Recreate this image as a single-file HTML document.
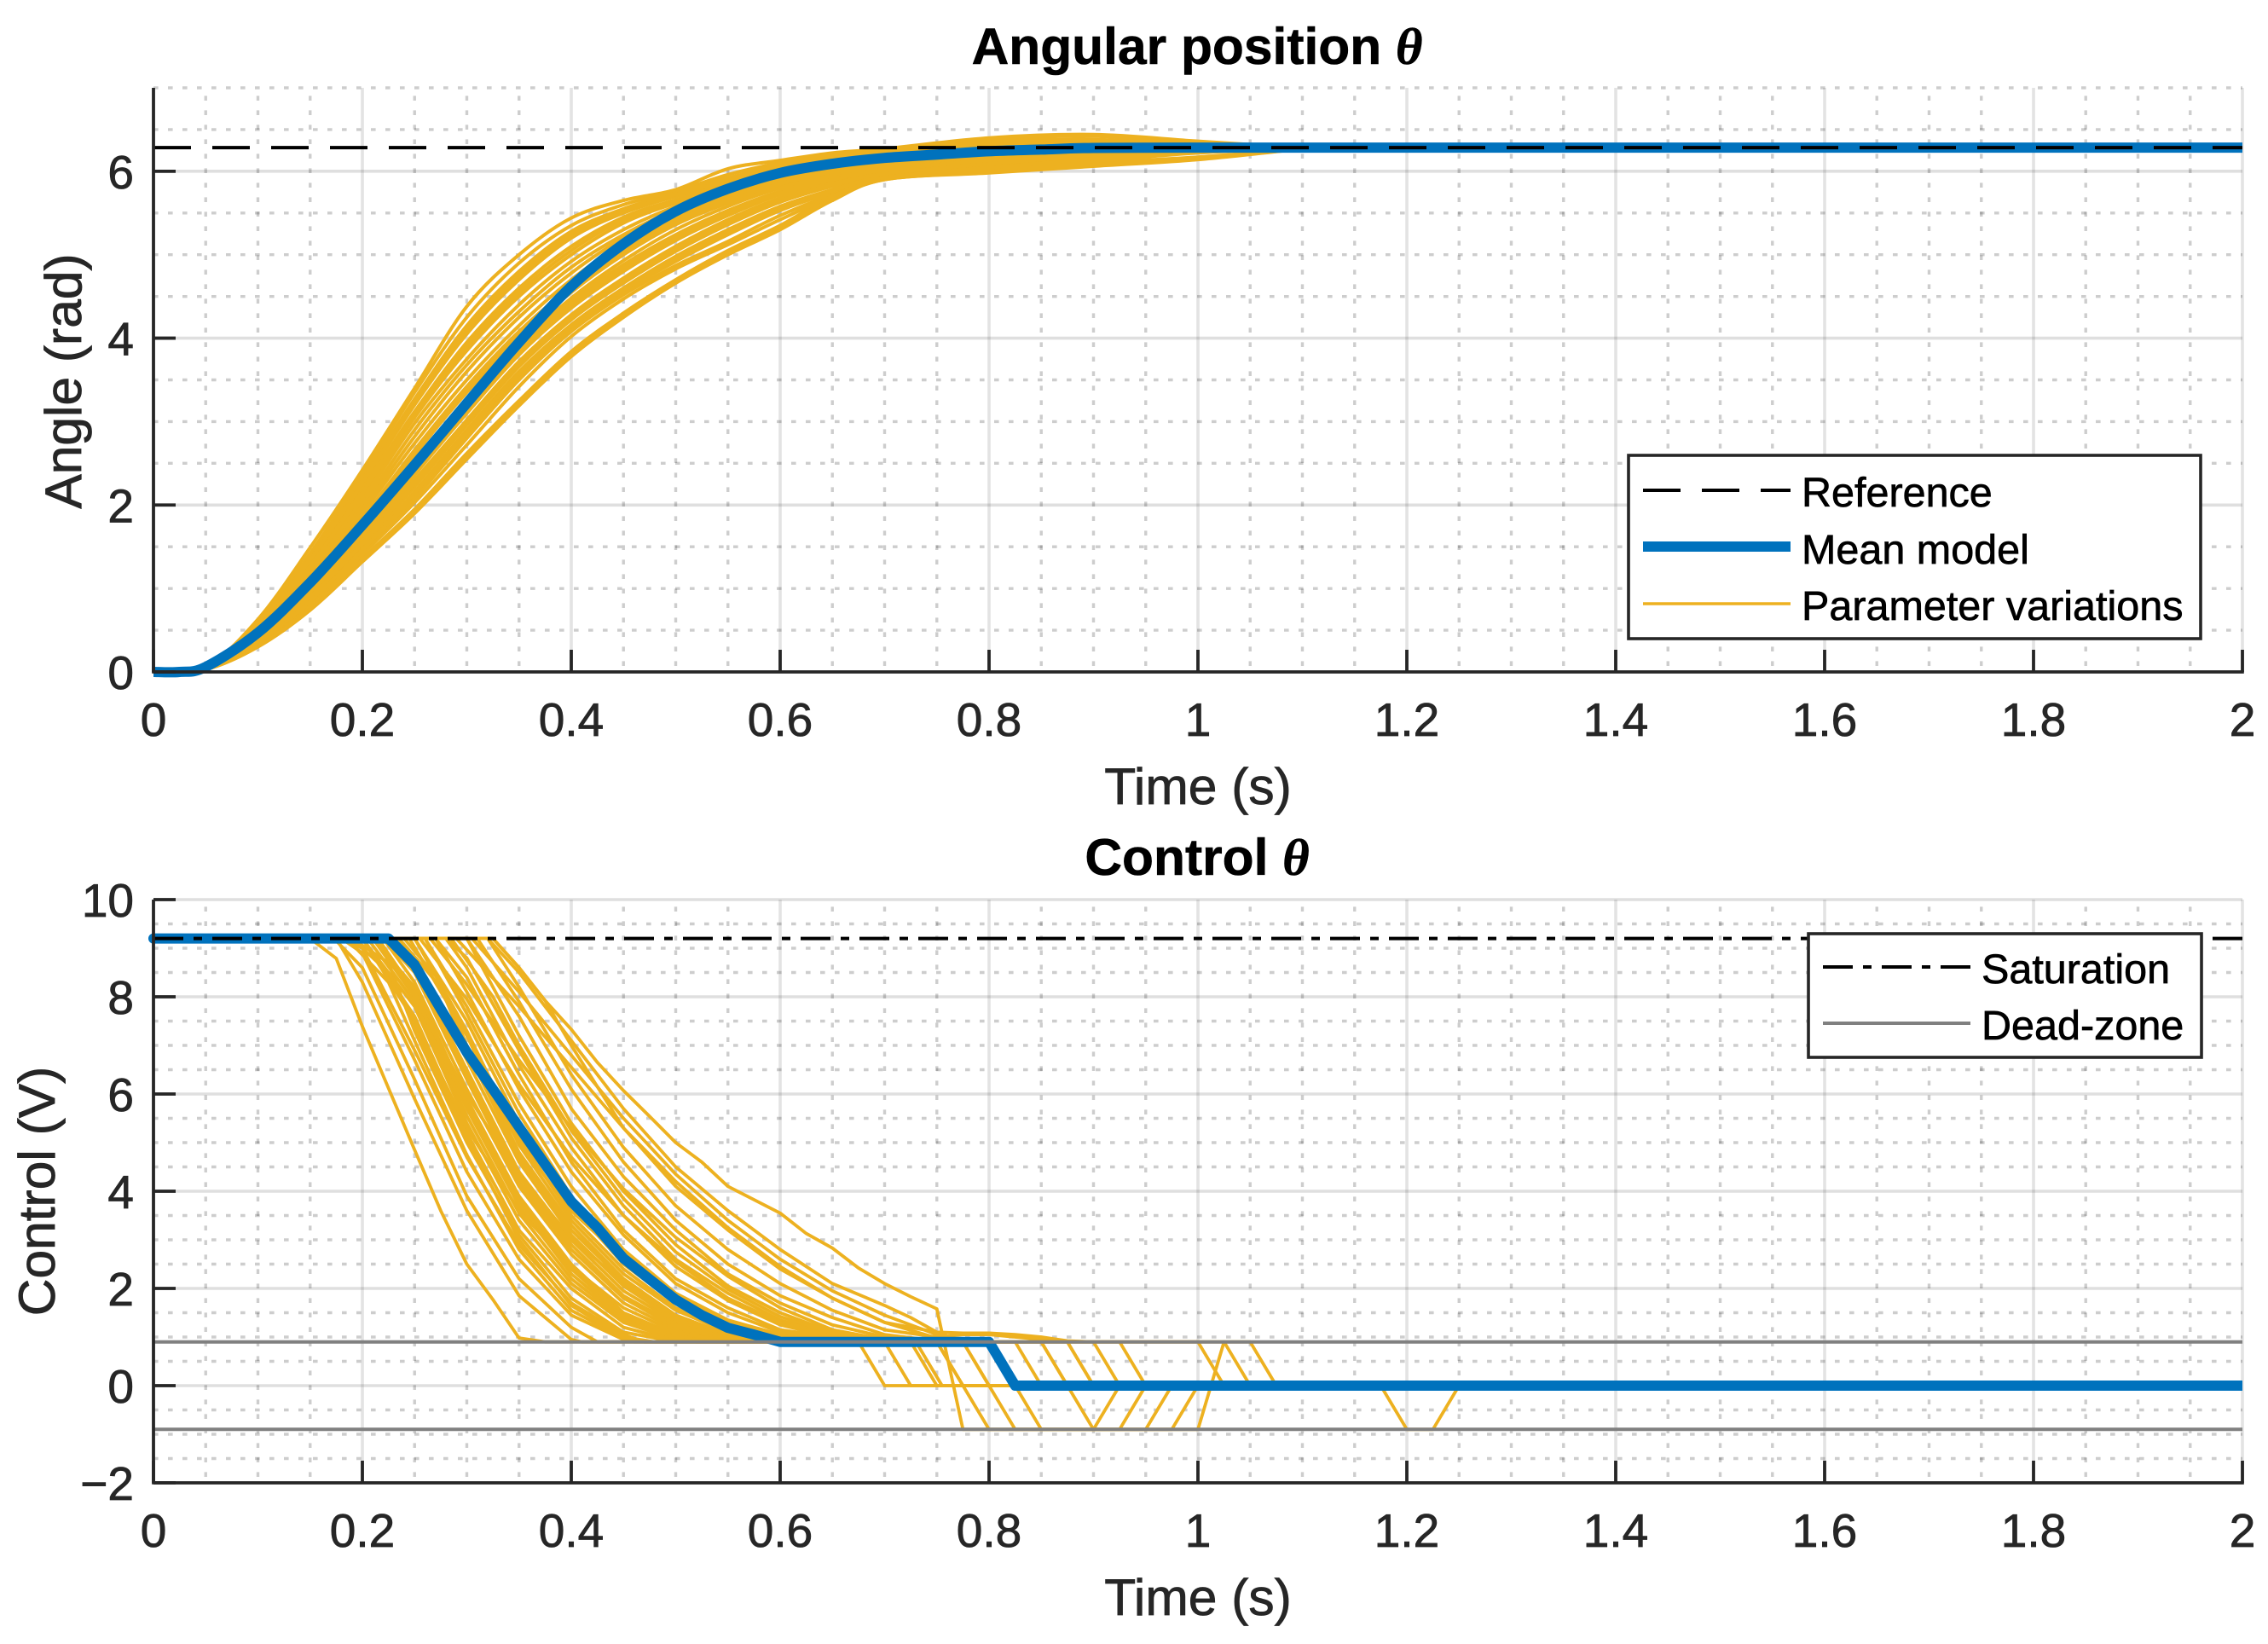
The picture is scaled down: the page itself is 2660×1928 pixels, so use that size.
<!DOCTYPE html>
<html><head><meta charset="utf-8"><title>Angular position and control</title>
<style>
html,body{margin:0;padding:0;background:#fff}
svg{display:block}
text{font-family:"Liberation Sans",sans-serif}
.tick{font-size:55px;fill:#262626;stroke:#262626;stroke-width:.8px}
.axis-label{font-size:60.5px;fill:#262626;stroke:#262626;stroke-width:.8px;text-anchor:middle}
.plot-title{font-size:60.5px;font-weight:bold;fill:#000;stroke:#000;stroke-width:.6px;text-anchor:middle}
.theta{font-family:"Liberation Serif",serif;font-style:italic;font-weight:bold}
.legend-text{font-size:48.5px;fill:#000;stroke:#000;stroke-width:.7px}
</style></head>
<body>
<svg id="figure" xmlns="http://www.w3.org/2000/svg" width="2660" height="1928" viewBox="0 0 2660 1928">
  <defs><clipPath id="control-clip"><rect x="170" y="1040" width="2460" height="710"/></clipPath></defs>
  <rect x="0" y="0" width="2660" height="1928" fill="#fff"/>
  <g id="top-grid"></g>
  <g id="bot-grid"></g>
  <g id="top-series"></g>
  <g id="bot-series" clip-path="url(#control-clip)"></g>
  <g id="top-axes"></g>
  <g id="bot-axes"></g>
  <text class="plot-title" x="1404" y="75">Angular position <tspan class="theta">θ</tspan></text>
  <text class="plot-title" x="1404" y="1026">Control <tspan class="theta">θ</tspan></text>
  <text class="axis-label" x="1405" y="943">Time (s)</text>
  <text class="axis-label" x="1405" y="1894">Time (s)</text>
  <text class="axis-label" transform="translate(95 447) rotate(-90)">Angle (rad)</text>
  <text class="axis-label" transform="translate(64 1397) rotate(-90)">Control (V)</text>
  <g>
    <rect x="1910" y="534" width="671" height="215" fill="#fff" stroke="#262626" stroke-width="3.6"/>
    <line x1="1927" x2="2100" y1="575" y2="575" stroke="#000" stroke-width="4" stroke-dasharray="44 25"/>
    <text class="legend-text" x="2113" y="594">Reference</text>
    <line x1="1927" x2="2100" y1="641" y2="641" stroke="#0072BD" stroke-width="12"/>
    <text class="legend-text" x="2113" y="661">Mean model</text>
    <line x1="1927" x2="2100" y1="708" y2="708" stroke="#EDB120" stroke-width="3.4"/>
    <text class="legend-text" x="2113" y="727">Parameter variations</text>
  </g>
  <g>
    <rect x="2121" y="1095" width="461" height="145" fill="#fff" stroke="#262626" stroke-width="3.6"/>
    <line x1="2138" x2="2311" y1="1134" y2="1134" stroke="#000" stroke-width="4" stroke-dasharray="35 12 10 12"/>
    <text class="legend-text" x="2324" y="1153">Saturation</text>
    <line x1="2138" x2="2311" y1="1200" y2="1200" stroke="#808080" stroke-width="4"/>
    <text class="legend-text" x="2324" y="1219">Dead-zone</text>
  </g>
</svg>
<script>
// ---- chart data ----
const timeTicks = [0, 0.2, 0.4, 0.6, 0.8, 1, 1.2, 1.4, 1.6, 1.8, 2];
const timeTickLabels = ['0', '0.2', '0.4', '0.6', '0.8', '1', '1.2', '1.4', '1.6', '1.8', '2'];
const angleTicks = [0, 2, 4, 6];
const angleTickLabels = ['0', '2', '4', '6'];
const controlTicks = [-2, 0, 2, 4, 6, 8, 10];
const controlTickLabels = ['\u22122', '0', '2', '4', '6', '8', '10'];
const angleLimits = [0, 7];
const controlLimits = [-2, 10];
const timeLimits = [0, 2];
const referenceAngle = 6.283;
const saturationLevel = 9.2;
const deadZoneLevels = [0.9, -0.9];

const angleTimes = [0, .05, .1, .15, .2, .25, .3, .35, .4, .45, .5, .55, .6, .65, .7, .8, .9, 1, 1.1, 2];
const angleVariations = [
 [0,.06,.63,1.49,2.42,3.4,4.38,5.0,5.44,5.65,5.78,6.03,6.13,6.22,6.27,6.4,6.44,6.36,6.28,6.28],
 [0,.06,.6,1.42,2.36,3.35,4.25,4.9,5.35,5.6,5.76,5.96,6.1,6.19,6.25,6.38,6.42,6.33,6.28,6.28],
 [0,.06,.58,1.36,2.3,3.27,4.15,4.8,5.28,5.55,5.74,5.92,6.07,6.16,6.23,6.35,6.38,6.31,6.28,6.28],
 [0,.06,.56,1.32,2.24,3.2,4.05,4.7,5.2,5.5,5.7,5.88,6.04,6.14,6.2,6.32,6.34,6.3,6.28,6.28],
 [0,.06,.55,1.28,2.18,3.12,3.95,4.6,5.1,5.45,5.66,5.85,6.01,6.12,6.18,6.29,6.32,6.29,6.28,6.28],
 [0,.06,.54,1.25,2.12,3.05,3.85,4.5,5.0,5.38,5.62,5.82,5.98,6.09,6.16,6.26,6.3,6.28,6.28,6.28],
 [0,.05,.53,1.22,2.06,2.98,3.75,4.4,4.92,5.3,5.58,5.79,5.96,6.07,6.14,6.24,6.29,6.28,6.28,6.28],
 [0,.05,.52,1.18,2.0,2.9,3.68,4.32,4.85,5.24,5.54,5.76,5.94,6.05,6.12,6.23,6.28,6.28,6.28,6.28],
 [0,.05,.51,1.15,1.95,2.82,3.6,4.25,4.78,5.2,5.5,5.74,5.92,6.04,6.11,6.22,6.27,6.28,6.28,6.28],
 [0,.05,.5,1.12,1.9,2.74,3.5,4.15,4.7,5.14,5.46,5.7,5.9,6.02,6.1,6.21,6.26,6.28,6.28,6.28],
 [0,.05,.48,1.08,1.84,2.66,3.42,4.08,4.62,5.08,5.42,5.67,5.87,6.0,6.08,6.2,6.25,6.28,6.28,6.28],
 [0,.05,.47,1.04,1.78,2.6,3.35,4.0,4.55,5.0,5.36,5.62,5.83,5.98,6.06,6.18,6.24,6.28,6.28,6.28],
 [0,.05,.45,1.0,1.72,2.52,3.25,3.92,4.48,4.93,5.3,5.58,5.8,5.95,6.04,6.16,6.23,6.27,6.28,6.28],
 [0,.05,.44,.97,1.66,2.44,3.18,3.88,4.44,4.88,5.24,5.53,5.76,5.92,6.02,6.14,6.22,6.27,6.28,6.28],
 [0,.05,.42,.94,1.6,2.36,3.1,3.8,4.36,4.8,5.17,5.47,5.72,5.88,6.0,6.12,6.21,6.27,6.28,6.28],
 [0,.05,.41,.92,1.56,2.3,3.02,3.72,4.28,4.72,5.1,5.42,5.68,5.85,5.98,6.1,6.2,6.27,6.28,6.28],
 [0,.05,.39,.89,1.52,2.22,2.96,3.66,4.22,4.66,5.04,5.36,5.63,5.82,5.96,6.08,6.18,6.26,6.28,6.28],
 [0,.04,.37,.86,1.47,2.16,2.9,3.6,4.16,4.6,4.98,5.3,5.58,5.78,5.94,6.06,6.16,6.26,6.28,6.28],
 [0,.04,.36,.84,1.44,2.12,2.85,3.55,4.12,4.56,4.92,5.24,5.53,5.75,5.93,6.05,6.15,6.26,6.28,6.28],
 [0,.04,.34,.82,1.42,2.08,2.8,3.5,4.08,4.52,4.87,5.16,5.47,5.72,5.92,6.03,6.14,6.25,6.28,6.28],
 [0,.04,.31,.77,1.36,1.95,2.62,3.25,3.84,4.3,4.7,5.05,5.35,5.7,5.91,6.01,6.1,6.17,6.27,6.28],
 [0,.03,.3,.74,1.32,1.9,2.55,3.19,3.78,4.25,4.66,5.0,5.3,5.65,5.9,5.98,6.06,6.14,6.27,6.28],
 [0,.05,.43,.96,1.63,2.4,3.14,3.84,4.4,4.84,5.2,5.5,5.74,5.9,6.01,6.13,6.21,6.27,6.28,6.28],
 [0,.05,.48,1.06,1.81,2.63,3.38,4.04,4.58,5.04,5.4,5.65,5.85,5.99,6.07,6.19,6.25,6.28,6.28,6.28],
 [0,.03,.31,.75,1.34,1.93,2.58,3.22,3.81,4.27,4.68,5.03,5.33,5.67,5.9,5.99,6.08,6.15,6.27,6.28],
 [0,.04,.35,.83,1.41,2.03,2.72,3.42,4.02,4.47,4.83,5.12,5.42,5.7,5.91,6.02,6.12,6.22,6.28,6.28],
 [0,.04,.36,.85,1.46,2.14,2.87,3.58,4.14,4.58,4.95,5.27,5.56,5.77,5.93,6.04,6.15,6.26,6.28,6.28],
 [0,.05,.4,.9,1.54,2.26,2.99,3.69,4.25,4.69,5.07,5.39,5.65,5.84,5.97,6.09,6.19,6.27,6.28,6.28],
 [0,.05,.57,1.34,2.27,3.23,4.1,4.75,5.24,5.52,5.72,5.89,6.05,6.15,6.21,6.31,6.36,6.3,6.28,6.28],
 [0,.05,.54,1.27,2.15,3.08,3.9,4.55,5.05,5.42,5.64,5.83,5.99,6.1,6.15,6.25,6.31,6.28,6.28,6.28]
];
const angleMeanTimes = [0, .025, .05, .1, .15, .2, .25, .3, .35, .4, .45, .5, .55, .6, .65, .7, .75, .8, .85, .9, 1, 2];
const angleMean = [0, 0, .06, .47, 1.07, 1.76, 2.48, 3.22, 3.95, 4.62, 5.13, 5.52, 5.79, 5.98, 6.09, 6.16, 6.2, 6.24, 6.26, 6.28, 6.283, 6.283];

const controlVariations = [
 [[.15,9.2],[.175,8.79],[.2,7.39],[.25,4.85],[.275,3.6],[.3,2.5],[.325,1.77],[.35,.98],[.375,.9],[.8,.9],[.825,0],[1.3,0]],
 [[.175,9.2],[.2,8.3],[.25,5.9],[.3,3.6],[.35,1.85],[.4,.95],[.41,.9],[.675,.9],[.7,0],[1.3,0]],
 [[.175,9.15],[.2,8.6],[.25,6.3],[.3,3.9],[.35,2.2],[.4,1.2],[.425,.9],[.7,.9],[.725,0],[1.3,0]],
 [[.18,9.2],[.2,8.9],[.25,6.7],[.3,4.4],[.35,2.6],[.4,1.45],[.45,.95],[.46,.9],[.725,.9],[.75,0],[1.3,0]],
 [[.18,9.2],[.2,9.0],[.25,6.9],[.3,4.7],[.35,2.9],[.4,1.7],[.45,1.05],[.47,.9],[.73,.9],[.755,0],[1.3,0]],
 [[.19,9.2],[.225,8.7],[.25,7.3],[.3,5.0],[.35,3.1],[.4,1.8],[.45,1.1],[.5,.9],[.75,.9],[.775,0],[1.3,0]],
 [[.2,9.2],[.25,7.6],[.3,5.2],[.35,3.2],[.4,2.0],[.45,1.2],[.5,.92],[.52,.9],[.775,.9],[.8,0],[1.3,0]],
 [[.2,9.2],[.25,7.8],[.3,5.4],[.35,3.4],[.4,2.1],[.45,1.3],[.5,.95],[.52,.9],[.8,.9],[.825,0],[1.3,0]],
 [[.21,9.2],[.25,8.0],[.3,5.7],[.35,3.7],[.4,2.3],[.45,1.4],[.5,1.0],[.53,.9],[.75,.9],[.8,-.9],[.925,-.9],[.95,0],[1.3,0]],
 [[.21,9.2],[.25,8.2],[.3,5.9],[.35,3.9],[.4,2.5],[.45,1.5],[.5,1.05],[.55,.9],[.775,.9],[.825,-.9],[.95,-.9],[.975,0],[1.3,0]],
 [[.22,9.2],[.25,8.3],[.3,6.1],[.35,4.1],[.4,2.7],[.45,1.7],[.5,1.15],[.55,.92],[.57,.9],[.8,.9],[.85,-.9],[.975,-.9],[1.0,0],[1.3,0]],
 [[.22,9.2],[.25,8.5],[.3,6.3],[.35,4.2],[.4,2.8],[.45,1.8],[.5,1.2],[.55,.95],[.57,.9],[.85,.9],[.9,-.9],[1.0,-.9],[1.025,.9],[1.05,0],[1.3,0]],
 [[.23,9.2],[.25,8.6],[.3,6.5],[.35,4.4],[.4,3.0],[.45,1.95],[.5,1.3],[.55,1.0],[.58,.9],[.825,.9],[.85,0],[1.3,0]],
 [[.23,9.2],[.25,8.8],[.3,6.7],[.35,4.6],[.4,3.1],[.45,2.05],[.5,1.35],[.55,1.0],[.6,.9],[.85,.9],[.875,0],[1.3,0]],
 [[.24,9.2],[.275,8.3],[.3,7.0],[.35,4.8],[.4,3.3],[.45,2.2],[.5,1.45],[.55,1.05],[.6,.9],[.8,.9],[.825,0],[1.3,0]],
 [[.25,9.2],[.3,7.3],[.35,5.1],[.4,3.5],[.45,2.4],[.5,1.6],[.55,1.15],[.6,.95],[.62,.9],[.875,.9],[.9,0],[1.3,0]],
 [[.25,9.2],[.3,7.5],[.35,5.4],[.4,3.7],[.45,2.5],[.5,1.7],[.55,1.2],[.6,1.0],[.64,.9],[.925,.9],[.95,0],[1.3,0]],
 [[.26,9.2],[.3,7.8],[.35,5.8],[.4,4.1],[.45,2.8],[.5,1.9],[.55,1.35],[.6,1.05],[.65,.9],[1.0,.9],[1.025,0],[1.3,0]],
 [[.27,9.2],[.3,8.1],[.35,6.1],[.4,4.4],[.45,3.1],[.5,2.1],[.55,1.5],[.6,1.1],[.65,.95],[.67,.9],[1.05,.9],[1.075,0],[1.3,0]],
 [[.27,9.2],[.3,8.4],[.35,6.4],[.4,4.6],[.45,3.2],[.5,2.2],[.55,1.6],[.6,1.15],[.65,1.0],[.69,.9],[.8,.9],[.825,0],[1.175,0],[1.2,-.9],[1.225,-.9],[1.25,0],[1.3,0]],
 [[.28,9.2],[.3,8.6],[.35,6.6],[.4,4.9],[.45,3.5],[.5,2.45],[.55,1.75],[.6,1.25],[.65,1.0],[.7,.9],[.8,.9],[.825,0],[1.3,0]],
 [[.28,9.2],[.3,8.8],[.35,6.9],[.4,5.1],[.45,3.7],[.5,2.6],[.55,1.9],[.6,1.35],[.65,1.05],[.7,.92],[.72,.9],[.8,.9],[.825,0],[1.3,0]],
 [[.3,9.2],[.35,7.2],[.4,5.4],[.45,4.0],[.5,2.9],[.55,2.05],[.6,1.5],[.65,1.1],[.7,.95],[.74,.9],[.8,.9],[.825,0],[1.3,0]],
 [[.3,9.2],[.35,7.6],[.4,5.7],[.45,4.3],[.5,3.2],[.55,2.3],[.6,1.7],[.65,1.25],[.7,1.0],[.75,.9],[.8,.9],[.825,0],[1.3,0]],
 [[.31,9.2],[.35,7.9],[.4,6.1],[.45,4.6],[.5,3.4],[.55,2.5],[.6,1.85],[.65,1.4],[.7,1.05],[.75,.92],[.8,.9],[.825,0],[1.3,0]],
 [[.32,9.2],[.35,8.2],[.4,6.4],[.45,4.9],[.5,3.7],[.55,2.8],[.6,2.1],[.65,1.55],[.7,1.15],[.75,1.0],[.775,1.05],[.8,1.05],[.825,1.0],[.85,.95],[.875,.9],[.9,0],[1.3,0]],
 [[.325,9.2],[.35,8.6],[.375,7.92],[.4,7.0],[.45,5.3],[.5,4.1],[.55,3.2],[.6,2.4],[.65,1.8],[.7,1.3],[.725,1.2],[.75,1.1],[.775,1.08],[.8,1.08],[.825,1.05],[.85,1.0],[.875,.92],[.9,.9],[.925,0],[1.3,0]],
 [[.32,9.2],[.35,8.5],[.4,7.1],[.45,5.7],[.5,4.5],[.55,3.6],[.6,2.8],[.65,2.1],[.7,1.65],[.725,1.4],[.75,1.1],[.775,.9],[.8,.9],[.825,0],[1.3,0]],
 [[.325,9.2],[.35,8.6],[.375,7.92],[.4,7.33],[.425,6.65],[.45,6.07],[.475,5.54],[.5,5.0],[.525,4.6],[.55,4.1],[.6,3.55],[.625,3.13],[.65,2.83],[.675,2.42],[.7,2.1],[.725,1.83],[.75,1.58],[.775,-.9],[.9,-.9],[.925,0],[1.3,0]],
 [[.215,9.2],[.25,8.1],[.3,5.8],[.35,3.8],[.4,2.4],[.45,1.45],[.5,1.0],[.54,.9],[.8,.9],[.825,0],[1.3,0]],
 [[.225,9.2],[.25,8.6],[.3,6.4],[.35,4.3],[.4,2.9],[.45,1.85],[.5,1.25],[.55,.97],[.58,.9],[.8,.9],[.825,0],[1.3,0]],
 [[.235,9.2],[.275,8.2],[.3,6.9],[.35,4.7],[.4,3.2],[.45,2.15],[.5,1.4],[.55,1.02],[.6,.9],[.8,.9],[.825,0],[1.3,0]],
 [[.245,9.2],[.3,7.2],[.35,4.95],[.4,3.4],[.45,2.3],[.5,1.55],[.55,1.1],[.6,.92],[.62,.9],[.8,.9],[.825,0],[1.3,0]],
 [[.205,9.2],[.25,7.9],[.3,5.55],[.35,3.55],[.4,2.2],[.45,1.35],[.5,.98],[.52,.9],[.8,.9],[.825,0],[1.3,0]],
 [[.26,9.2],[.3,7.65],[.35,5.6],[.4,3.9],[.45,2.65],[.5,1.8],[.55,1.28],[.6,1.02],[.65,.9],[.8,.9],[.825,0],[1.3,0]],
 [[.285,9.2],[.325,8.0],[.35,7.0],[.4,5.25],[.45,3.85],[.5,2.75],[.55,1.98],[.6,1.42],[.65,1.08],[.7,.93],[.72,.9],[.8,.9],[.825,0],[1.3,0]],
 [[.185,9.2],[.225,8.3],[.25,7.1],[.3,4.75],[.35,2.8],[.4,1.55],[.45,.98],[.47,.9],[.8,.9],[.825,0],[1.3,0]],
 [[.19,9.2],[.225,8.5],[.25,7.45],[.3,5.1],[.35,3.0],[.4,1.65],[.45,1.0],[.48,.9],[.8,.9],[.825,0],[1.3,0]],
 [[.2,9.2],[.25,7.5],[.3,5.3],[.35,3.6],[.4,2.45],[.45,1.6],[.5,1.1],[.55,.9],[.8,.9],[.825,0],[1.3,0]],
 [[.215,9.2],[.25,8.0],[.3,6.0],[.35,4.3],[.4,3.05],[.45,2.1],[.5,1.45],[.55,1.05],[.6,.9],[.8,.9],[.825,0],[1.3,0]],
 [[.23,9.2],[.275,7.8],[.3,6.8],[.35,5.0],[.4,3.6],[.45,2.6],[.5,1.85],[.55,1.3],[.6,.98],[.63,.9],[.8,.9],[.825,0],[1.3,0]],
 [[.255,9.2],[.3,7.95],[.35,6.2],[.4,4.7],[.45,3.5],[.5,2.55],[.55,1.8],[.6,1.3],[.65,1.0],[.68,.9],[.8,.9],[.825,0],[1.3,0]],
 [[.265,9.2],[.3,8.25],[.35,6.7],[.4,5.3],[.45,4.05],[.5,3.05],[.55,2.25],[.6,1.6],[.65,1.15],[.7,.95],[.72,.9],[.8,.9],[.825,0],[1.3,0]],
 [[.29,9.2],[.35,7.8],[.4,6.55],[.45,5.3],[.5,4.2],[.55,3.25],[.6,2.45],[.65,1.8],[.7,1.3],[.75,.98],[.77,.9],[.8,.9],[.825,0],[1.3,0]],
 [[.305,9.2],[.35,8.1],[.4,6.8],[.45,5.5],[.5,4.35],[.55,3.4],[.6,2.6],[.65,1.95],[.7,1.45],[.75,1.05],[.78,.9],[.8,.9],[.825,0],[1.3,0]]
];
const controlMeanTimes = [0, .225, .25, .275, .3, .325, .35, .375, .4, .425, .45, .475, .5, .525, .55, .575, .6, .8, .825, 2];
const controlMean = [9.2, 9.2, 8.66, 7.75, 6.86, 6.1, 5.32, 4.55, 3.79, 3.25, 2.62, 2.19, 1.77, 1.45, 1.19, 1.05, .9, .9, 0, 0];

// ---- axis functions ----
const svgNS = 'http://www.w3.org/2000/svg';
const plotLeft = 180, plotWidth = 1225 * (timeLimits[1] - timeLimits[0]);
function xTime(t) { return plotLeft + (t - timeLimits[0]) / (timeLimits[1] - timeLimits[0]) * plotWidth; }
const angleBottom = 788, angleTop = 103;
const controlBottom = 1739, controlTop = 1055;
function yAngle(v) { return angleBottom - (v - angleLimits[0]) / (angleLimits[1] - angleLimits[0]) * (angleBottom - angleTop); }
function yControl(v) { return controlBottom - (v - controlLimits[0]) / (controlLimits[1] - controlLimits[0]) * (controlBottom - controlTop); }

function make(tag, parent, attrs) {
  const el = document.createElementNS(svgNS, tag);
  for (const k in attrs) el.setAttribute(k, attrs[k]);
  parent.appendChild(el);
  return el;
}
function pathFrom(xs, ys) {
  let d = '';
  for (let i = 0; i < xs.length; i++) d += (i ? 'L' : 'M') + xs[i].toFixed(2) + ' ' + ys[i].toFixed(2);
  return d;
}
// smooth path through the read values; the final long flat stretch stays straight
function smoothFrom(xs, ys) {
  const n = xs.length - 1;
  let d = 'M' + xs[0].toFixed(2) + ' ' + ys[0].toFixed(2);
  for (let i = 0; i < n - 1; i++) {
    const a = Math.max(i - 1, 0), b = Math.min(i + 2, n - 1);
    const c1x = xs[i] + (xs[i + 1] - xs[a]) / 6, c1y = ys[i] + (ys[i + 1] - ys[a]) / 6;
    const c2x = xs[i + 1] - (xs[b] - xs[i]) / 6, c2y = ys[i + 1] - (ys[b] - ys[i]) / 6;
    d += 'C' + c1x.toFixed(2) + ' ' + c1y.toFixed(2) + ' ' + c2x.toFixed(2) + ' ' + c2y.toFixed(2) + ' ' + xs[i + 1].toFixed(2) + ' ' + ys[i + 1].toFixed(2);
  }
  return d + 'L' + xs[n].toFixed(2) + ' ' + ys[n].toFixed(2);
}

function drawGrid(group, yFn, yLimits, ticks, top, bottom) {
  const nMinorY = Math.round((yLimits[1] - yLimits[0]) / 0.5);
  for (let i = 0; i <= nMinorY; i++) {
    const v = yLimits[0] + i * 0.5;
    if (ticks.includes(v) || i === 0) continue;
    const el = make('line', group, { x1: plotLeft, x2: xTime(timeLimits[1]), y1: yFn(v), y2: yFn(v), stroke: '#262626', 'stroke-opacity': .23, 'stroke-width': 3.4, 'stroke-dasharray': '5.6 11.4' });
    
    
  }
  const nMinorX = Math.round((timeLimits[1] - timeLimits[0]) / 0.05);
  for (let i = 1; i <= nMinorX; i++) {
    if (i % 4 === 0) continue;
    const t = timeLimits[0] + i * 0.05;
    const el = make('line', group, { x1: xTime(t), x2: xTime(t), y1: bottom, y2: top, stroke: '#262626', 'stroke-opacity': .23, 'stroke-width': 3.4, 'stroke-dasharray': '5.6 11.4', 'stroke-dashoffset': -7 });
    
    
  }
  for (const v of ticks) {
    const el = make('line', group, { x1: plotLeft, x2: xTime(timeLimits[1]), y1: yFn(v), y2: yFn(v), stroke: '#262626', 'stroke-opacity': .15, 'stroke-width': 3.6 });
    
    
  }
  for (const t of timeTicks) {
    const el = make('line', group, { x1: xTime(t), x2: xTime(t), y1: bottom, y2: top, stroke: '#262626', 'stroke-opacity': .13, 'stroke-width': 3.6 });
    
    
  }
}

function drawAxes(group, yFn, ticks, labels, top, bottom) {
  const yAxis = make('line', group, { x1: plotLeft, x2: plotLeft, y1: bottom + 1.8, y2: top, stroke: '#262626', 'stroke-width': 3.8 });
  
  
  const xAxis = make('line', group, { x1: plotLeft, x2: xTime(timeLimits[1]) + 1.8, y1: bottom, y2: bottom, stroke: '#262626', 'stroke-width': 3.8 });
  
  
  ticks.forEach(function (v, i) {
    const tick = make('line', group, { x1: plotLeft, x2: plotLeft + 26, y1: yFn(v), y2: yFn(v), stroke: '#262626', 'stroke-width': 3.8 });
    
    
    const label = make('text', group, { x: 157, y: yFn(v) + 20, 'text-anchor': 'end', class: 'tick' });
    label.textContent = labels[i];
    
    
  });
  timeTicks.forEach(function (t, i) {
    const tick = make('line', group, { x1: xTime(t), x2: xTime(t), y1: bottom, y2: bottom - 26, stroke: '#262626', 'stroke-width': 3.8 });
    
    
    const label = make('text', group, { x: xTime(t), y: bottom + 75, 'text-anchor': 'middle', class: 'tick' });
    label.textContent = timeTickLabels[i];
    
    
  });
}

// ---- upper panel ----
drawGrid(document.getElementById('top-grid'), yAngle, angleLimits, angleTicks, angleTop, angleBottom);
const topSeries = document.getElementById('top-series');
angleVariations.forEach(function (run) {
  const el = make('path', topSeries, { d: smoothFrom(angleTimes.map(xTime), run.map(yAngle)), fill: 'none', stroke: '#EDB120', 'stroke-width': 4, 'stroke-linejoin': 'round' });
  
  
});
const angleMeanLine = make('path', topSeries, { d: smoothFrom(angleMeanTimes.map(xTime), angleMean.map(yAngle)), fill: 'none', stroke: '#0072BD', 'stroke-width': 12, 'stroke-linejoin': 'round' });


const referenceLine = make('line', topSeries, { x1: xTime(timeLimits[0]), x2: xTime(timeLimits[1]), y1: yAngle(referenceAngle), y2: yAngle(referenceAngle), stroke: '#000', 'stroke-width': 4, 'stroke-dasharray': '44 25' });


drawAxes(document.getElementById('top-axes'), yAngle, angleTicks, angleTickLabels, angleTop, angleBottom);

// ---- lower panel ----
drawGrid(document.getElementById('bot-grid'), yControl, controlLimits, controlTicks, controlTop, controlBottom);
const botSeries = document.getElementById('bot-series');
controlVariations.forEach(function (run) {
  const ts = [0].concat(run.map(function (p) { return p[0]; }));
  const vs = [saturationLevel].concat(run.map(function (p) { return p[1]; }));
  const el = make('path', botSeries, { d: pathFrom(ts.map(xTime), vs.map(yControl)), fill: 'none', stroke: '#EDB120', 'stroke-width': 3.8, 'stroke-linejoin': 'round' });
  
  
});
const controlMeanLine = make('path', botSeries, { d: pathFrom(controlMeanTimes.map(xTime), controlMean.map(yControl)), fill: 'none', stroke: '#0072BD', 'stroke-width': 12, 'stroke-linejoin': 'round', 'stroke-linecap': 'round' });


const saturationLine = make('line', botSeries, { x1: xTime(timeLimits[0]), x2: xTime(timeLimits[1]), y1: yControl(saturationLevel), y2: yControl(saturationLevel), stroke: '#000', 'stroke-width': 4, 'stroke-dasharray': '35 12 10 12' });


deadZoneLevels.forEach(function (v) {
  const el = make('line', botSeries, { x1: xTime(timeLimits[0]), x2: xTime(timeLimits[1]), y1: yControl(v), y2: yControl(v), stroke: '#808080', 'stroke-width': 4 });
  
  
});
drawAxes(document.getElementById('bot-axes'), yControl, controlTicks, controlTickLabels, controlTop, controlBottom);
</script>
</body></html>
